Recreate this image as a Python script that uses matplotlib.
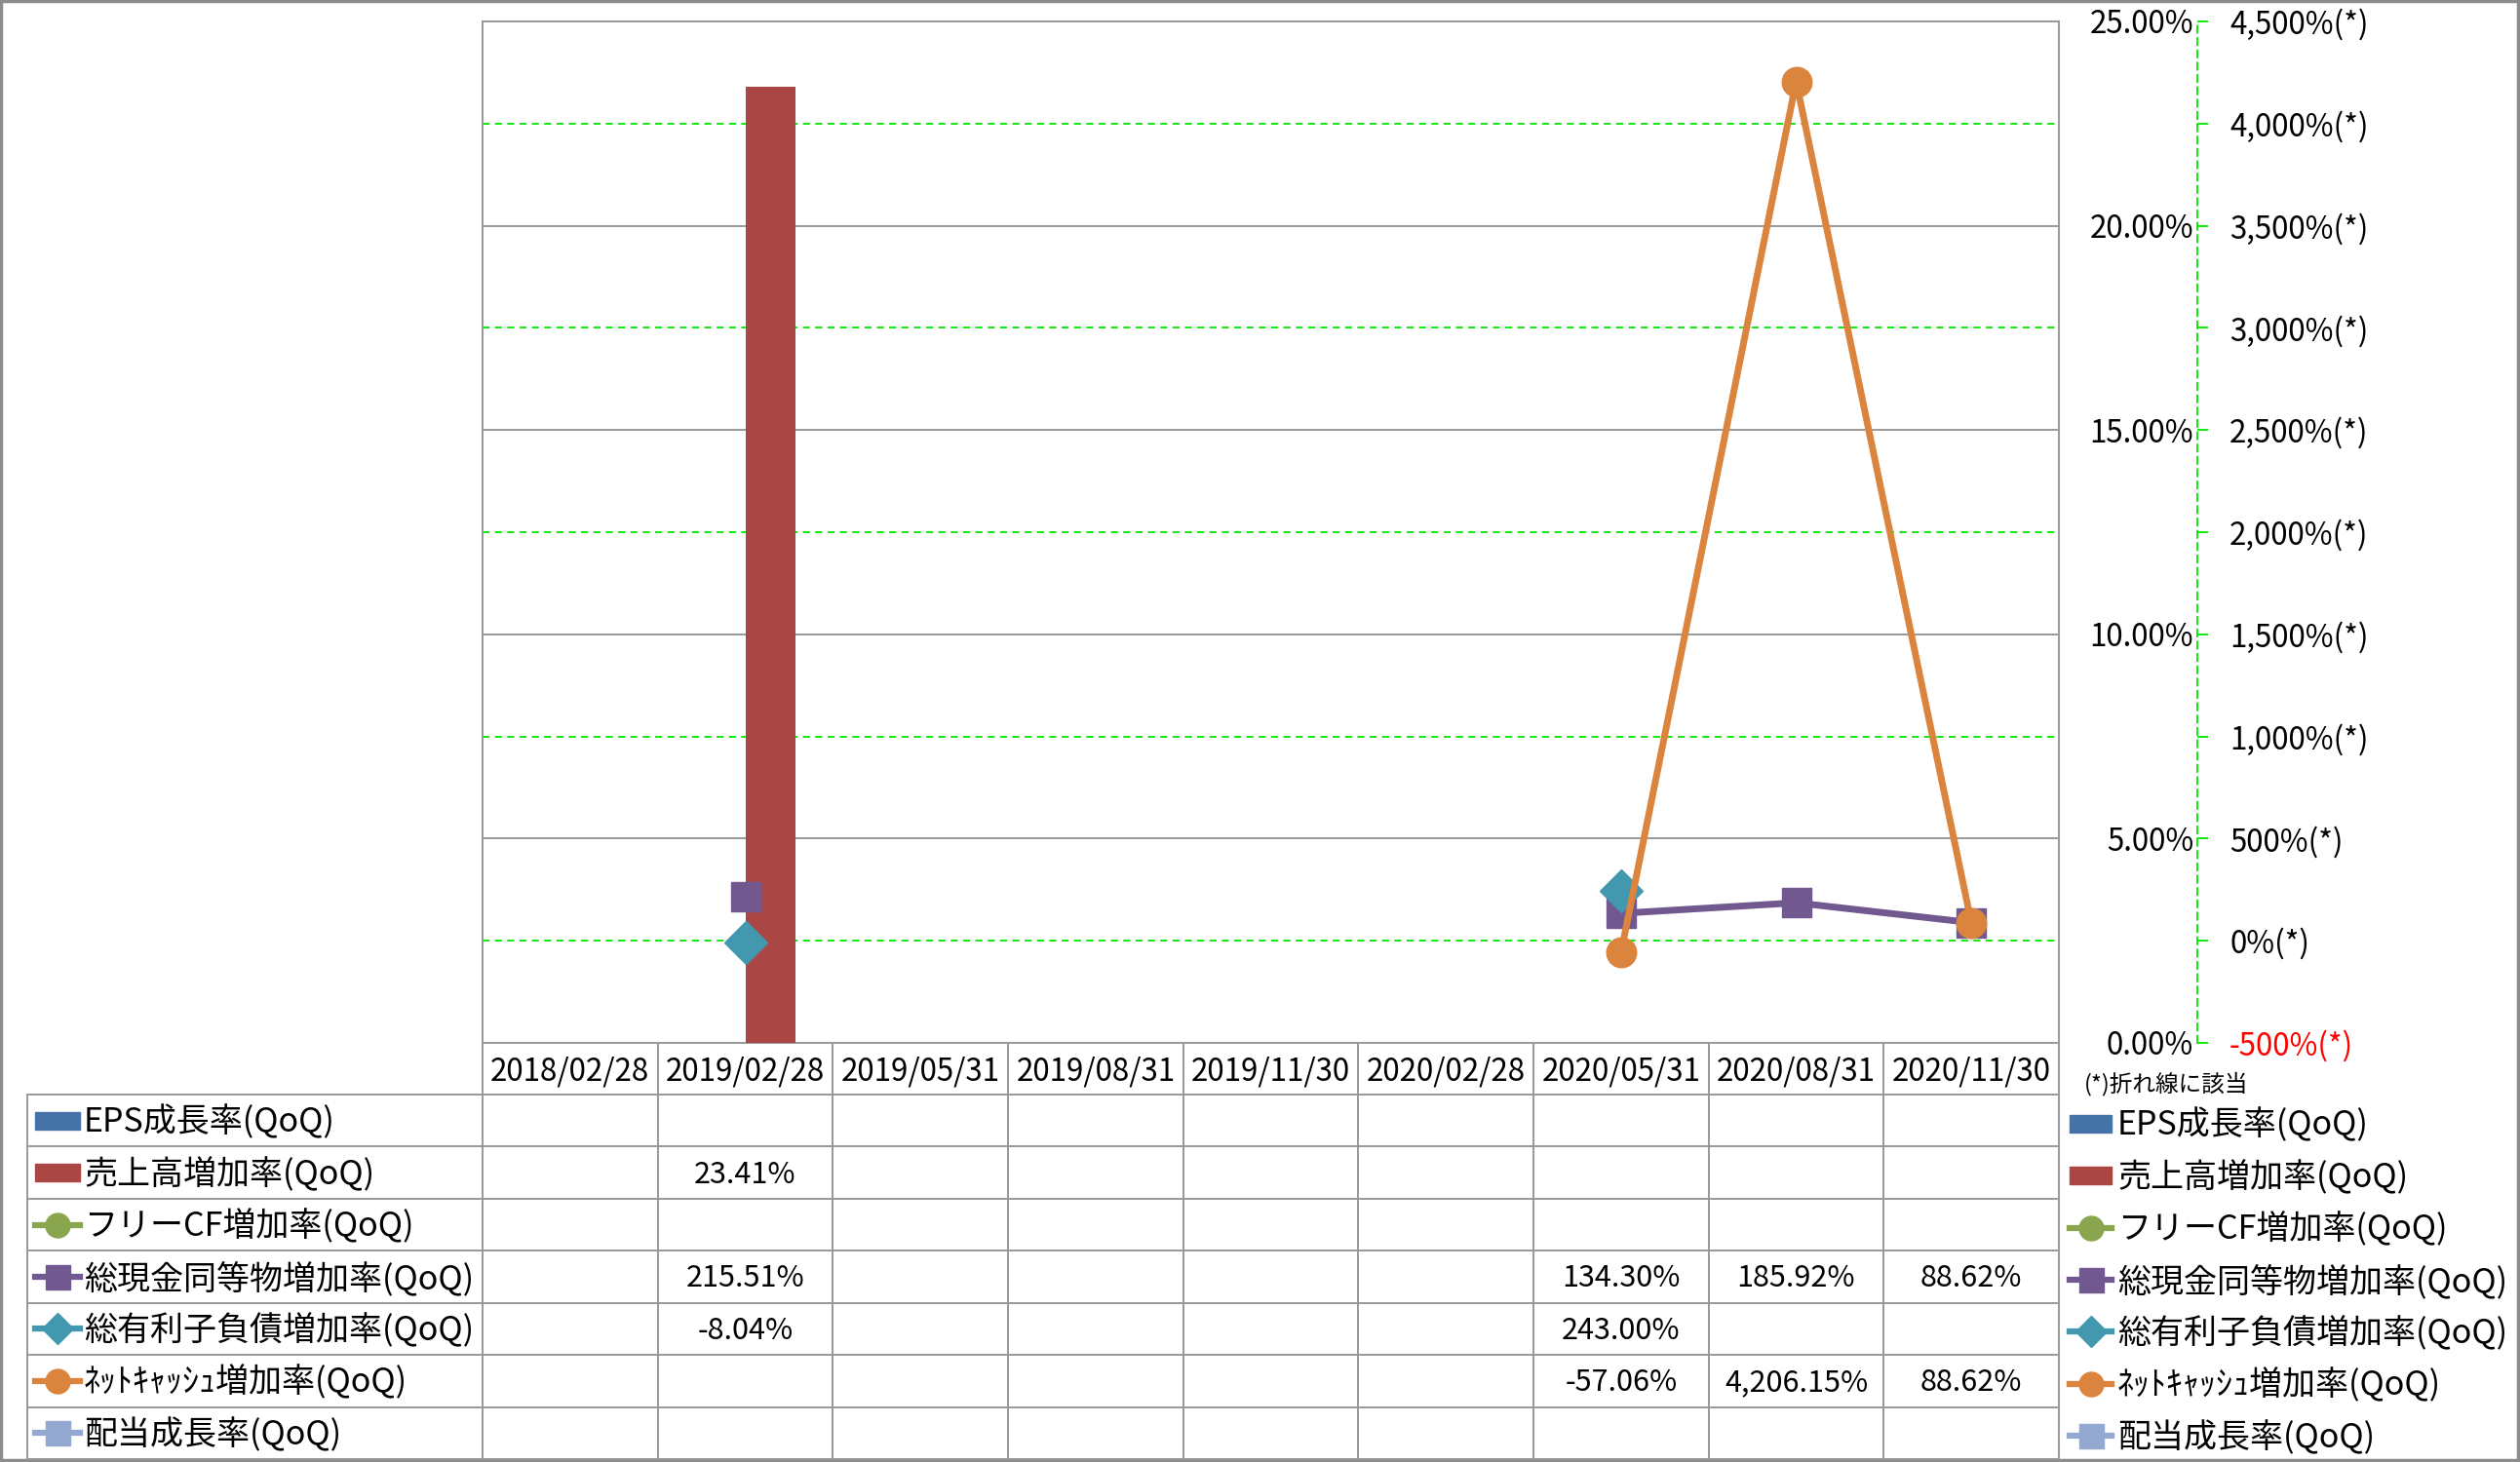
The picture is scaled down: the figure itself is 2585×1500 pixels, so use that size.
import matplotlib
matplotlib.use('Agg')
import matplotlib.pyplot as plt
from matplotlib.patches import Rectangle
import numpy as np

plt.rcParams['font.family'] = ['Noto Sans CJK JP', 'DejaVu Sans']

nan = np.nan

# --- data (growth rates in %) ---
dates = ['2018/02/28', '2019/02/28', '2019/05/31', '2019/08/31', '2019/11/30',
         '2020/02/28', '2020/05/31', '2020/08/31', '2020/11/30']
series_names = ['EPS成長率(QoQ)', '売上高増加率(QoQ)', 'フリーCF増加率(QoQ)',
                '総現金同等物増加率(QoQ)', '総有利子負債増加率(QoQ)',
                'ﾈｯﾄｷｬｯｼｭ増加率(QoQ)', '配当成長率(QoQ)']
eps_growth = [nan, nan, nan, nan, nan, nan, nan, nan, nan]
sales_growth = [nan, 23.41, nan, nan, nan, nan, nan, nan, nan]
fcf_growth = [nan, nan, nan, nan, nan, nan, nan, nan, nan]
cash_growth = [nan, 215.51, nan, nan, nan, nan, 134.30, 185.92, 88.62]
debt_growth = [nan, -8.04, nan, nan, nan, nan, 243.00, nan, nan]
netcash_growth = [nan, nan, nan, nan, nan, nan, -57.06, 4206.15, 88.62]
div_growth = [nan, nan, nan, nan, nan, nan, nan, nan, nan]

primary_ticks = [0, 5, 10, 15, 20, 25]
secondary_ticks = [-500, 0, 500, 1000, 1500, 2000, 2500, 3000, 3500, 4000, 4500]

all_series = [eps_growth, sales_growth, fcf_growth, cash_growth,
              debt_growth, netcash_growth, div_growth]
colors = ['#4572A7', '#AA4643', '#89A54E', '#71588F', '#4198AF', '#DB843D', '#93A9CF']
markers = [None, None, 'o', 's', 'D', 'o', 's']

W, H = 2585, 1500
PT = 0.72  # points per pixel at dpi 100
FS_AX = 22.5
FS_VAL = 22
FS_NAME = 24.5
grid_green = '#00E600'
table_gray = '#999999'

fig = plt.figure(figsize=(W / 100, H / 100), dpi=100)

# plot area in pixels
L, R, T, B = 495, 2112, 22, 1070
ax = fig.add_axes([L / W, 1 - B / H, (R - L) / W, (B - T) / H])
x = np.arange(len(dates))
bw = 0.285
ax.bar(x - bw, eps_growth, width=bw, align='edge', color=colors[0], zorder=3)
ax.bar(x, sales_growth, width=bw, align='edge', color=colors[1], zorder=3)
ax.set_xlim(-0.5, len(dates) - 0.5)
ax.set_ylim(0, 25)
ax.set_xticks([])
ax.yaxis.grid(True, color=table_gray, lw=1.4, zorder=0)
ax.set_axisbelow(True)
for s in ax.spines.values():
    s.set_color(table_gray)
    s.set_linewidth(1.4)

ax2 = ax.twinx()
ax2.set_ylim(-500, 4500)

# primary labels sit to the right, right-aligned next to the secondary axis
ax.yaxis.tick_right()
ax.set_yticks(primary_ticks, labels=[f'{v:.2f}%' for v in primary_ticks])
ax.tick_params(axis='y', left=False, right=False, labelleft=False, labelright=True,
               length=0, pad=(2250 - R) * PT, labelsize=FS_AX)
plt.setp(ax.get_yticklabels(), ha='right')


def sec_to_pri(v):
    lo, hi = ax2.get_ylim()
    plo, phi = ax.get_ylim()
    return plo + (v - lo) / (hi - lo) * (phi - plo)


for v in secondary_ticks:
    if v >= 0 and v % 1000 == 0:
        ax.axhline(sec_to_pri(v), color=grid_green, lw=1.3, ls=(0, (4, 3)), zorder=1)

ax2.set_yticks(secondary_ticks, labels=[f'{v:,}%(*)' for v in secondary_ticks])
for name in ['left', 'top', 'bottom']:
    ax2.spines[name].set_visible(False)
ax2.spines['right'].set_position(('outward', (2254 - R) * PT))
ax2.spines['right'].set_color(grid_green)
ax2.spines['right'].set_linestyle((0, (4, 3)))
ax2.spines['right'].set_linewidth(1.3)
ax2.tick_params(axis='y', color=grid_green, length=8, width=1.3,
                pad=(2287 - 2254 - 11) * PT, labelsize=FS_AX, labelcolor='black')
ax2.get_yticklabels()[0].set_color('red')

for j in [2, 3, 4, 5, 6]:
    ax2.plot(x, all_series[j], color=colors[j], lw=5, marker=markers[j],
             markersize=22, zorder=3 + j)

# --- overlay for data table and legend (pixel coords) ---
ov = fig.add_axes([0, 0, 1, 1], zorder=-1)
ov.set_xlim(0, W)
ov.set_ylim(H, 0)
ov.axis('off')

tab_left = 28
head_bot = 1123
row_h = (1497 - head_bot) / 7
col_w = (R - L) / len(dates)

for j in range(8):
    y = head_bot + j * row_h
    ov.plot([tab_left, R], [y, y], color=table_gray, lw=1.4)
ov.plot([tab_left, tab_left], [head_bot, 1497], color=table_gray, lw=1.4)
for k in range(len(dates) + 1):
    xe = L + k * col_w
    ov.plot([xe, xe], [B, 1497], color=table_gray, lw=1.4)

for i, d in enumerate(dates):
    ov.text(L + (i + 0.5) * col_w, (B + head_bot) / 2 + 3, d, ha='center',
            va='center', fontsize=FS_AX)


def draw_key(x0, x1, y, j):
    if markers[j] is None:
        ov.add_patch(Rectangle((x0, y - 9), x1 - x0, 18, color=colors[j]))
    else:
        ms = 16 if markers[j] == 'D' else 18
        ov.plot([x0, (x0 + x1) / 2, x1], [y, y, y], color=colors[j], lw=4.5,
                marker=markers[j], markevery=[1], markersize=ms)


for j, name in enumerate(series_names):
    yc = head_bot + (j + 0.5) * row_h
    draw_key(36, 82, yc, j)
    ov.text(86, yc + 2, name, ha='left', va='center', fontsize=FS_NAME)
    for i, v in enumerate(all_series[j]):
        if not np.isnan(v):
            ov.text(L + (i + 0.5) * col_w, yc + 2, f'{v:,.2f}%', ha='center',
                    va='center', fontsize=FS_VAL)
    # right-hand legend
    draw_key(2123, 2166, yc + 3, j)
    ov.text(2172, yc + 5, name, ha='left', va='center', fontsize=FS_NAME)

ov.text(2138, 1112, '(*)折れ線に該当', ha='left', va='center', fontsize=17)

ov.add_patch(Rectangle((1, 1), W - 3, H - 3, fill=False, edgecolor='#8C8C8C', lw=2.5))

fig.savefig('out.png', dpi=100)
